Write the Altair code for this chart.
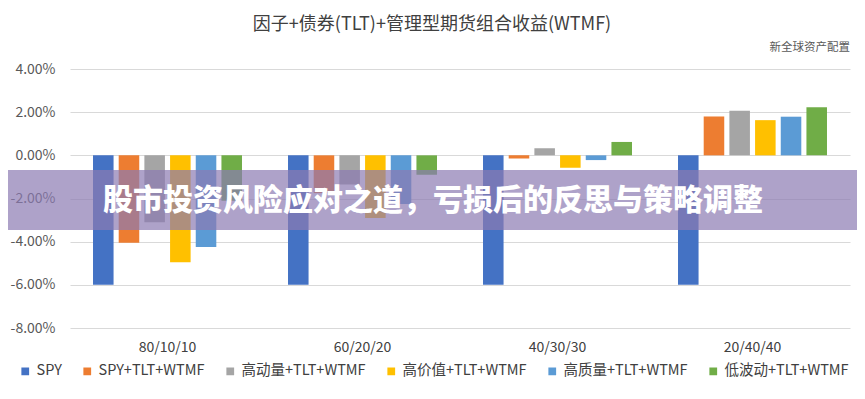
import altair as alt
import pandas as pd

categories = ["80/10/10", "60/20/20", "40/30/30", "20/40/40"]
series = ["SPY", "SPY+TLT+WTMF", "高动量+TLT+WTMF", "高价值+TLT+WTMF", "高质量+TLT+WTMF", "低波动+TLT+WTMF"]
colors = ["#4472C4", "#ED7D31", "#A5A5A5", "#FFC000", "#5B9BD5", "#70AD47"]

spy = [-6.0, -6.0, -6.0, -6.0]
spy_tlt_wtmf = [-4.05, -1.75, -0.15, 1.80]
momentum = [-3.10, -1.35, 0.33, 2.07]
value = [-4.95, -2.90, -0.57, 1.63]
quality = [-4.25, -2.25, -0.22, 1.79]
low_vol = [-2.10, -0.90, 0.62, 2.23]

y_ticks = [-0.08, -0.06, -0.04, -0.02, 0.0, 0.02, 0.04]

title_text = "因子+债券(TLT)+管理型期货组合收益(WTMF)"
source_text = "新全球资产配置"
banner_text = "股市投资风险应对之道，亏损后的反思与策略调整"

FONT = "Noto Sans CJK SC"
NARROW = "Liberation Sans Narrow, Noto Sans CJK SC"

rows = []
for s, vals in zip(series, [spy, spy_tlt_wtmf, momentum, value, quality, low_vol]):
    for c, v in zip(categories, vals):
        rows.append({"组合": c, "系列": s, "收益": v / 100.0})
df = pd.DataFrame(rows)

W, H = 780, 259

bars = alt.Chart(df).mark_bar().encode(
    x=alt.X("组合:N", sort=categories, title=None,
            scale=alt.Scale(paddingInner=0.236, paddingOuter=0.118),
            axis=alt.Axis(labelAngle=0, labelFontSize=14, labelColor="#404040",
                          labelFont=FONT, domain=False, ticks=False, labelPadding=12, zindex=0)),
    xOffset=alt.XOffset("系列:N", sort=series,
                        scale=alt.Scale(paddingInner=0.2, paddingOuter=0)),
    y=alt.Y("收益:Q", title=None,
            scale=alt.Scale(domain=[-0.08, 0.04], nice=False, zero=False),
            axis=alt.Axis(values=y_ticks, labelExpr="replace(format(datum.value, '.2%'), '\u2212', '-')",
                          labelFontSize=14, labelColor="#595959", labelFont=FONT,
                          domain=False, ticks=False, labelPadding=15,
                          gridColor="#D9D9D9", gridWidth=1, zindex=0)),
    color=alt.Color("系列:N", sort=series,
                    scale=alt.Scale(domain=series, range=colors),
                    legend=alt.Legend(title=None, orient="none", legendX=-52, legendY=295,
                                      direction="horizontal",
                                      symbolType="square", symbolSize=60, symbolStrokeWidth=0,
                                      labelFontSize=14.5, labelColor="#404040", labelFont=NARROW,
                                      columnPadding=18, labelOffset=4)),
)

banner_df = pd.DataFrame({"t": [banner_text]})
banner = alt.Chart(banner_df).mark_rect(color="#8C7BB2", opacity=0.7).encode(
    x=alt.value(-80), x2=alt.value(W + 20), y=alt.value(101), y2=alt.value(161)
)
banner_label = alt.Chart(banner_df).mark_text(
    align="left", baseline="middle", fontSize=30, fontWeight=900, font=FONT, color="white"
).encode(text="t:N", x=alt.value(33), y=alt.value(132))

title = alt.Chart(pd.DataFrame({"t": [title_text]})).mark_text(
    align="center", baseline="middle", fontSize=18, font=FONT, color="#404040"
).encode(text="t:N", x=alt.value(362), y=alt.value(-44))

src = alt.Chart(pd.DataFrame({"t": [source_text]})).mark_text(
    align="right", baseline="middle", fontSize=11.5, font=FONT, color="#595959"
).encode(text="t:N", x=alt.value(W), y=alt.value(-21))

chart = alt.layer(bars, banner, banner_label, title, src).properties(
    width=W, height=H,
    autosize=alt.AutoSizeParams(type="none"),
    padding={"left": 62, "top": 61, "right": 7, "bottom": 62},
).configure_view(stroke=None)

chart.save("out.html", embed_options={"renderer": "svg", "actions": False})
